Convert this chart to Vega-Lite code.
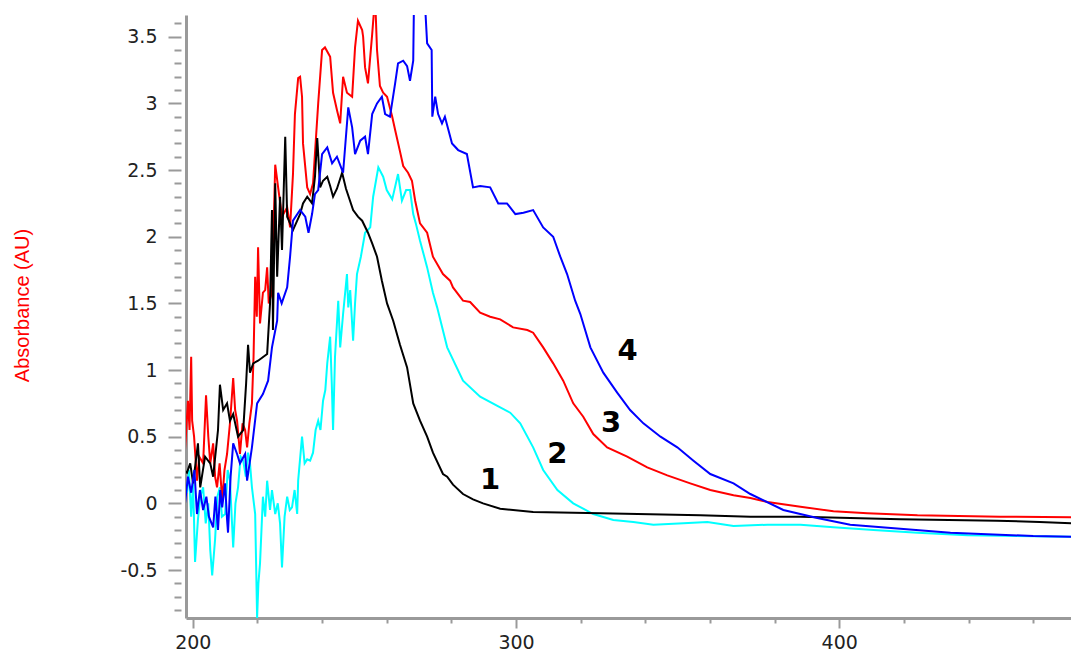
{
  "$schema": "https://vega.github.io/schema/vega-lite/v6.json",
  "width": 885,
  "height": 603,
  "autosize": {"type": "none"},
  "padding": {"left": 186, "top": 15, "right": 0, "bottom": 33},
  "background": "white",
  "config": {"view": {"stroke": null}},
  "datasets": {
    "curves": [
      {"s":"2","x":197.6,"y":0.17},{"s":"2","x":198.2,"y":0.08},{"s":"2","x":198.8,"y":0.25},{"s":"2","x":199.5,"y":-0.1},{"s":"2","x":200.1,"y":0.15},{"s":"2","x":200.7,"y":-0.44},{"s":"2","x":201.6,"y":-0.12},{"s":"2","x":202.3,"y":0.05},{"s":"2","x":203.2,"y":0.12},{"s":"2","x":204.0,"y":-0.15},{"s":"2","x":204.8,"y":0.0},{"s":"2","x":205.4,"y":-0.35},{"s":"2","x":206.0,"y":-0.54},{"s":"2","x":206.9,"y":-0.27},{"s":"2","x":207.6,"y":0.05},{"s":"2","x":208.4,"y":0.12},{"s":"2","x":209.0,"y":-0.1},{"s":"2","x":210.0,"y":-0.08},{"s":"2","x":210.8,"y":0.25},{"s":"2","x":211.5,"y":0.17},{"s":"2","x":212.5,"y":-0.33},{"s":"2","x":213.2,"y":0.0},{"s":"2","x":214.0,"y":0.12},{"s":"2","x":214.8,"y":0.35},{"s":"2","x":215.6,"y":0.32},{"s":"2","x":216.4,"y":0.2},{"s":"2","x":217.1,"y":0.38},{"s":"2","x":217.7,"y":0.3},{"s":"2","x":218.3,"y":0.12},{"s":"2","x":219.3,"y":-0.08},{"s":"2","x":219.9,"y":-0.86},{"s":"2","x":220.3,"y":-0.6},{"s":"2","x":220.8,"y":-0.45},{"s":"2","x":221.7,"y":0.05},{"s":"2","x":222.4,"y":-0.1},{"s":"2","x":223.0,"y":0.17},{"s":"2","x":223.9,"y":-0.05},{"s":"2","x":224.5,"y":0.1},{"s":"2","x":225.5,"y":-0.08},{"s":"2","x":226.3,"y":0.0},{"s":"2","x":227.0,"y":-0.15},{"s":"2","x":227.6,"y":-0.48},{"s":"2","x":228.4,"y":-0.1},{"s":"2","x":229.2,"y":0.05},{"s":"2","x":230.0,"y":-0.05},{"s":"2","x":230.7,"y":-0.03},{"s":"2","x":231.5,"y":0.1},{"s":"2","x":232.3,"y":-0.08},{"s":"2","x":232.6,"y":0.17},{"s":"2","x":233.8,"y":0.5},{"s":"2","x":234.6,"y":0.3},{"s":"2","x":235.4,"y":0.33},{"s":"2","x":236.3,"y":0.32},{"s":"2","x":237.2,"y":0.38},{"s":"2","x":238.0,"y":0.55},{"s":"2","x":238.8,"y":0.62},{"s":"2","x":239.5,"y":0.55},{"s":"2","x":240.3,"y":0.77},{"s":"2","x":241.0,"y":0.85},{"s":"2","x":241.6,"y":1.05},{"s":"2","x":242.5,"y":1.25},{"s":"2","x":243.0,"y":0.9},{"s":"2","x":243.4,"y":0.55},{"s":"2","x":244.0,"y":1.1},{"s":"2","x":245.0,"y":1.52},{"s":"2","x":245.6,"y":1.17},{"s":"2","x":246.5,"y":1.42},{"s":"2","x":247.7,"y":1.72},{"s":"2","x":248.1,"y":1.47},{"s":"2","x":248.7,"y":1.6},{"s":"2","x":249.6,"y":1.22},{"s":"2","x":250.2,"y":1.5},{"s":"2","x":250.8,"y":1.72},{"s":"2","x":252.0,"y":1.85},{"s":"2","x":253.3,"y":2.03},{"s":"2","x":254.9,"y":2.07},{"s":"2","x":255.8,"y":2.3},{"s":"2","x":257.4,"y":2.52},{"s":"2","x":258.9,"y":2.45},{"s":"2","x":260.0,"y":2.35},{"s":"2","x":261.7,"y":2.28},{"s":"2","x":263.5,"y":2.47},{"s":"2","x":264.7,"y":2.27},{"s":"2","x":266.0,"y":2.35},{"s":"2","x":267.2,"y":2.35},{"s":"2","x":268.2,"y":2.17},{"s":"2","x":269.0,"y":2.1},{"s":"2","x":270.3,"y":1.97},{"s":"2","x":272.5,"y":1.77},{"s":"2","x":274.3,"y":1.58},{"s":"2","x":275.6,"y":1.47},{"s":"2","x":278.7,"y":1.17},{"s":"2","x":283.6,"y":0.92},{"s":"2","x":288.9,"y":0.8},{"s":"2","x":295.1,"y":0.72},{"s":"2","x":298.2,"y":0.68},{"s":"2","x":301.3,"y":0.6},{"s":"2","x":305.3,"y":0.42},{"s":"2","x":308.4,"y":0.25},{"s":"2","x":312.8,"y":0.1},{"s":"2","x":317.7,"y":0.0},{"s":"2","x":323.9,"y":-0.08},{"s":"2","x":330.1,"y":-0.125},{"s":"2","x":336.3,"y":-0.14},{"s":"2","x":342.5,"y":-0.16},{"s":"2","x":351.8,"y":-0.15},{"s":"2","x":359.2,"y":-0.14},{"s":"2","x":367.3,"y":-0.17},{"s":"2","x":377.8,"y":-0.16},{"s":"2","x":388.0,"y":-0.16},{"s":"2","x":398.2,"y":-0.18},{"s":"2","x":410.6,"y":-0.2},{"s":"2","x":424.2,"y":-0.22},{"s":"2","x":439.7,"y":-0.24},{"s":"2","x":471.7,"y":-0.25},

      {"s":"3","x":197.6,"y":0.4},{"s":"3","x":198.5,"y":0.77},{"s":"3","x":199.0,"y":0.55},{"s":"3","x":199.5,"y":1.1},{"s":"3","x":199.8,"y":0.62},{"s":"3","x":200.4,"y":0.5},{"s":"3","x":201.3,"y":0.17},{"s":"3","x":202.0,"y":0.35},{"s":"3","x":203.2,"y":0.3},{"s":"3","x":204.1,"y":0.81},{"s":"3","x":204.8,"y":0.5},{"s":"3","x":205.4,"y":0.3},{"s":"3","x":206.3,"y":0.45},{"s":"3","x":206.9,"y":0.2},{"s":"3","x":207.5,"y":0.12},{"s":"3","x":208.3,"y":0.3},{"s":"3","x":209.1,"y":0.02},{"s":"3","x":209.8,"y":0.25},{"s":"3","x":210.6,"y":0.37},{"s":"3","x":211.5,"y":0.6},{"s":"3","x":212.5,"y":0.94},{"s":"3","x":213.1,"y":0.7},{"s":"3","x":213.7,"y":0.62},{"s":"3","x":214.6,"y":0.37},{"s":"3","x":215.4,"y":0.6},{"s":"3","x":216.2,"y":0.55},{"s":"3","x":216.8,"y":0.42},{"s":"3","x":217.5,"y":0.6},{"s":"3","x":218.3,"y":0.75},{"s":"3","x":218.8,"y":1.1},{"s":"3","x":219.3,"y":1.7},{"s":"3","x":219.8,"y":1.4},{"s":"3","x":220.2,"y":1.92},{"s":"3","x":220.8,"y":1.35},{"s":"3","x":221.7,"y":1.58},{"s":"3","x":222.4,"y":1.6},{"s":"3","x":223.0,"y":1.77},{"s":"3","x":223.5,"y":1.5},{"s":"3","x":224.5,"y":1.58},{"s":"3","x":225.5,"y":2.54},{"s":"3","x":226.4,"y":2.37},{"s":"3","x":227.6,"y":2.15},{"s":"3","x":229.2,"y":2.22},{"s":"3","x":230.1,"y":2.07},{"s":"3","x":231.0,"y":2.47},{"s":"3","x":231.6,"y":2.92},{"s":"3","x":232.6,"y":3.19},{"s":"3","x":233.2,"y":3.2},{"s":"3","x":233.8,"y":3.05},{"s":"3","x":234.1,"y":2.7},{"s":"3","x":235.4,"y":2.37},{"s":"3","x":236.3,"y":2.32},{"s":"3","x":237.2,"y":2.4},{"s":"3","x":238.8,"y":3.0},{"s":"3","x":240.0,"y":3.4},{"s":"3","x":240.9,"y":3.42},{"s":"3","x":242.5,"y":3.35},{"s":"3","x":243.4,"y":3.08},{"s":"3","x":244.6,"y":2.95},{"s":"3","x":245.6,"y":2.85},{"s":"3","x":246.5,"y":3.2},{"s":"3","x":247.7,"y":3.08},{"s":"3","x":249.3,"y":3.05},{"s":"3","x":250.2,"y":3.42},{"s":"3","x":251.1,"y":3.62},{"s":"3","x":252.4,"y":3.55},{"s":"3","x":252.7,"y":3.5},{"s":"3","x":253.3,"y":3.27},{"s":"3","x":254.2,"y":3.15},{"s":"3","x":255.5,"y":3.52},{"s":"3","x":256.4,"y":3.8},{"s":"3","x":257.0,"y":3.4},{"s":"3","x":257.9,"y":3.13},{"s":"3","x":258.9,"y":3.08},{"s":"3","x":260.1,"y":3.05},{"s":"3","x":261.7,"y":2.9},{"s":"3","x":262.6,"y":2.8},{"s":"3","x":264.1,"y":2.64},{"s":"3","x":265.1,"y":2.53},{"s":"3","x":266.6,"y":2.48},{"s":"3","x":267.8,"y":2.42},{"s":"3","x":268.8,"y":2.27},{"s":"3","x":270.3,"y":2.1},{"s":"3","x":272.5,"y":2.03},{"s":"3","x":274.3,"y":1.85},{"s":"3","x":277.4,"y":1.72},{"s":"3","x":279.6,"y":1.67},{"s":"3","x":280.5,"y":1.62},{"s":"3","x":283.6,"y":1.52},{"s":"3","x":285.8,"y":1.51},{"s":"3","x":288.9,"y":1.43},{"s":"3","x":292.0,"y":1.4},{"s":"3","x":295.1,"y":1.38},{"s":"3","x":299.1,"y":1.32},{"s":"3","x":303.5,"y":1.3},{"s":"3","x":305.3,"y":1.28},{"s":"3","x":308.4,"y":1.17},{"s":"3","x":311.5,"y":1.05},{"s":"3","x":314.6,"y":0.92},{"s":"3","x":317.7,"y":0.75},{"s":"3","x":320.8,"y":0.65},{"s":"3","x":323.9,"y":0.52},{"s":"3","x":328.2,"y":0.42},{"s":"3","x":334.4,"y":0.35},{"s":"3","x":340.6,"y":0.27},{"s":"3","x":346.8,"y":0.21},{"s":"3","x":353.9,"y":0.15},{"s":"3","x":360.1,"y":0.1},{"s":"3","x":367.3,"y":0.06},{"s":"3","x":372.5,"y":0.04},{"s":"3","x":377.8,"y":0.01},{"s":"3","x":388.0,"y":-0.025},{"s":"3","x":398.2,"y":-0.06},{"s":"3","x":408.7,"y":-0.075},{"s":"3","x":424.2,"y":-0.09},{"s":"3","x":449.8,"y":-0.1},{"s":"3","x":471.7,"y":-0.105},

      {"s":"1","x":197.6,"y":0.24},{"s":"1","x":198.2,"y":0.23},{"s":"1","x":199.2,"y":0.3},{"s":"1","x":200.1,"y":0.15},{"s":"1","x":201.6,"y":0.45},{"s":"1","x":202.3,"y":0.12},{"s":"1","x":203.8,"y":0.35},{"s":"1","x":205.4,"y":0.3},{"s":"1","x":206.3,"y":0.2},{"s":"1","x":207.8,"y":0.55},{"s":"1","x":208.4,"y":0.89},{"s":"1","x":209.4,"y":0.7},{"s":"1","x":210.6,"y":0.75},{"s":"1","x":211.5,"y":0.62},{"s":"1","x":212.5,"y":0.67},{"s":"1","x":214.0,"y":0.5},{"s":"1","x":215.6,"y":0.55},{"s":"1","x":216.5,"y":0.9},{"s":"1","x":217.1,"y":1.19},{"s":"1","x":217.7,"y":0.98},{"s":"1","x":218.7,"y":1.05},{"s":"1","x":220.2,"y":1.07},{"s":"1","x":223.0,"y":1.12},{"s":"1","x":223.9,"y":1.5},{"s":"1","x":224.5,"y":2.2},{"s":"1","x":224.8,"y":1.3},{"s":"1","x":225.5,"y":2.4},{"s":"1","x":226.1,"y":1.7},{"s":"1","x":227.0,"y":2.3},{"s":"1","x":227.6,"y":1.9},{"s":"1","x":228.6,"y":2.75},{"s":"1","x":229.2,"y":2.15},{"s":"1","x":230.1,"y":2.1},{"s":"1","x":231.0,"y":2.05},{"s":"1","x":232.3,"y":2.12},{"s":"1","x":233.2,"y":2.17},{"s":"1","x":234.1,"y":2.25},{"s":"1","x":235.4,"y":2.3},{"s":"1","x":236.9,"y":2.25},{"s":"1","x":237.8,"y":2.45},{"s":"1","x":238.5,"y":2.74},{"s":"1","x":239.4,"y":2.37},{"s":"1","x":240.3,"y":2.42},{"s":"1","x":241.6,"y":2.45},{"s":"1","x":242.5,"y":2.38},{"s":"1","x":243.4,"y":2.3},{"s":"1","x":244.6,"y":2.36},{"s":"1","x":246.2,"y":2.48},{"s":"1","x":247.4,"y":2.36},{"s":"1","x":249.6,"y":2.2},{"s":"1","x":251.1,"y":2.15},{"s":"1","x":252.4,"y":2.12},{"s":"1","x":254.2,"y":2.03},{"s":"1","x":255.5,"y":1.95},{"s":"1","x":257.0,"y":1.85},{"s":"1","x":258.5,"y":1.67},{"s":"1","x":260.1,"y":1.5},{"s":"1","x":262.0,"y":1.37},{"s":"1","x":264.1,"y":1.19},{"s":"1","x":266.3,"y":1.02},{"s":"1","x":268.2,"y":0.75},{"s":"1","x":270.3,"y":0.62},{"s":"1","x":272.5,"y":0.5},{"s":"1","x":274.3,"y":0.38},{"s":"1","x":277.4,"y":0.22},{"s":"1","x":278.7,"y":0.2},{"s":"1","x":280.5,"y":0.14},{"s":"1","x":283.6,"y":0.07},{"s":"1","x":286.7,"y":0.03},{"s":"1","x":289.8,"y":0.0},{"s":"1","x":295.1,"y":-0.04},{"s":"1","x":305.3,"y":-0.065},{"s":"1","x":326.1,"y":-0.075},{"s":"1","x":357.0,"y":-0.09},{"s":"1","x":372.5,"y":-0.1},{"s":"1","x":388.0,"y":-0.1},{"s":"1","x":418.9,"y":-0.12},{"s":"1","x":448.8,"y":-0.13},{"s":"1","x":462.0,"y":-0.14},{"s":"1","x":471.7,"y":-0.15},

      {"s":"4","x":197.6,"y":0.0},{"s":"4","x":198.5,"y":0.2},{"s":"4","x":199.5,"y":0.08},{"s":"4","x":200.5,"y":0.25},{"s":"4","x":201.3,"y":-0.08},{"s":"4","x":202.2,"y":0.1},{"s":"4","x":203.2,"y":-0.05},{"s":"4","x":204.2,"y":0.05},{"s":"4","x":205.0,"y":-0.1},{"s":"4","x":206.3,"y":-0.18},{"s":"4","x":207.0,"y":0.05},{"s":"4","x":207.8,"y":-0.2},{"s":"4","x":208.5,"y":0.1},{"s":"4","x":209.1,"y":-0.03},{"s":"4","x":210.0,"y":0.15},{"s":"4","x":210.6,"y":-0.12},{"s":"4","x":210.9,"y":-0.22},{"s":"4","x":211.7,"y":0.2},{"s":"4","x":212.5,"y":0.45},{"s":"4","x":213.7,"y":0.37},{"s":"4","x":214.6,"y":0.3},{"s":"4","x":216.2,"y":0.37},{"s":"4","x":216.8,"y":0.17},{"s":"4","x":218.3,"y":0.42},{"s":"4","x":219.9,"y":0.75},{"s":"4","x":221.7,"y":0.82},{"s":"4","x":223.3,"y":0.92},{"s":"4","x":224.5,"y":1.17},{"s":"4","x":226.1,"y":1.37},{"s":"4","x":226.4,"y":1.58},{"s":"4","x":227.5,"y":1.5},{"s":"4","x":229.2,"y":1.62},{"s":"4","x":230.1,"y":1.85},{"s":"4","x":231.0,"y":2.12},{"s":"4","x":233.2,"y":2.2},{"s":"4","x":234.8,"y":2.15},{"s":"4","x":235.8,"y":2.03},{"s":"4","x":236.9,"y":2.17},{"s":"4","x":237.8,"y":2.32},{"s":"4","x":238.8,"y":2.35},{"s":"4","x":240.0,"y":2.62},{"s":"4","x":241.6,"y":2.67},{"s":"4","x":243.1,"y":2.55},{"s":"4","x":244.6,"y":2.6},{"s":"4","x":246.5,"y":2.48},{"s":"4","x":248.1,"y":2.97},{"s":"4","x":249.3,"y":2.82},{"s":"4","x":250.2,"y":2.62},{"s":"4","x":251.8,"y":2.72},{"s":"4","x":253.3,"y":2.75},{"s":"4","x":254.2,"y":2.62},{"s":"4","x":255.5,"y":2.92},{"s":"4","x":257.0,"y":3.0},{"s":"4","x":258.5,"y":3.05},{"s":"4","x":259.5,"y":2.92},{"s":"4","x":261.0,"y":2.9},{"s":"4","x":262.6,"y":3.15},{"s":"4","x":263.5,"y":3.3},{"s":"4","x":265.1,"y":3.32},{"s":"4","x":266.3,"y":3.28},{"s":"4","x":267.2,"y":3.17},{"s":"4","x":268.2,"y":3.32},{"s":"4","x":268.5,"y":3.9},{"s":"4","x":271.5,"y":3.9},{"s":"4","x":272.5,"y":3.45},{"s":"4","x":273.9,"y":3.4},{"s":"4","x":274.1,"y":2.9},{"s":"4","x":275.0,"y":3.05},{"s":"4","x":275.9,"y":2.92},{"s":"4","x":277.1,"y":2.85},{"s":"4","x":278.0,"y":2.9},{"s":"4","x":280.2,"y":2.7},{"s":"4","x":282.1,"y":2.65},{"s":"4","x":284.8,"y":2.62},{"s":"4","x":286.7,"y":2.37},{"s":"4","x":288.9,"y":2.38},{"s":"4","x":292.0,"y":2.37},{"s":"4","x":294.5,"y":2.25},{"s":"4","x":297.2,"y":2.25},{"s":"4","x":299.8,"y":2.17},{"s":"4","x":302.3,"y":2.18},{"s":"4","x":305.3,"y":2.2},{"s":"4","x":308.4,"y":2.07},{"s":"4","x":311.5,"y":2.0},{"s":"4","x":313.7,"y":1.85},{"s":"4","x":315.8,"y":1.72},{"s":"4","x":318.3,"y":1.52},{"s":"4","x":319.9,"y":1.42},{"s":"4","x":323.0,"y":1.17},{"s":"4","x":327.0,"y":0.98},{"s":"4","x":331.3,"y":0.83},{"s":"4","x":335.3,"y":0.7},{"s":"4","x":339.4,"y":0.6},{"s":"4","x":344.7,"y":0.5},{"s":"4","x":349.9,"y":0.42},{"s":"4","x":354.9,"y":0.32},{"s":"4","x":360.1,"y":0.22},{"s":"4","x":367.3,"y":0.15},{"s":"4","x":372.5,"y":0.07},{"s":"4","x":382.7,"y":-0.05},{"s":"4","x":393.2,"y":-0.11},{"s":"4","x":403.4,"y":-0.16},{"s":"4","x":418.9,"y":-0.19},{"s":"4","x":434.4,"y":-0.22},{"s":"4","x":460.0,"y":-0.245},{"s":"4","x":471.7,"y":-0.25}
    ],
    "labels": [
      {"t":"1","x":292.0,"y":0.175},
      {"t":"2","x":312.8,"y":0.37},
      {"t":"3","x":329.4,"y":0.6},
      {"t":"4","x":334.5,"y":1.14}
    ]
  },
  "encoding": {
    "x": {
      "field": "x", "type": "quantitative",
      "scale": {"domain": [197.9, 471.7], "nice": false, "zero": false},
      "axis": {
        "title": null,
        "values": [200,220,240,260,280,300,320,340,360,380,400,420,440,460],
        "grid": false,
        "domainColor": "#9a9a9a", "domainWidth": 3,
        "tickColor": "#9a9a9a", "tickWidth": 2,
        "tickSize": {"condition": {"test": "datum.value % 100 == 0", "value": 10}, "value": 5},
        "labelExpr": "datum.value % 100 == 0 ? datum.label : ''",
        "labelFont": "DejaVu Sans", "labelFontSize": 19, "labelColor": "#222222",
        "labelPadding": 5, "labelOverlap": false, "labelFlush": false
      }
    },
    "y": {
      "field": "y", "type": "quantitative",
      "scale": {"domain": [-0.86, 3.663], "nice": false, "zero": false},
      "axis": {
        "values": [-0.8,-0.7,-0.6,-0.5,-0.4,-0.3,-0.2,-0.1,0,0.1,0.2,0.3,0.4,0.5,0.6,0.7,0.8,0.9,1,1.1,1.2,1.3,1.4,1.5,1.6,1.7,1.8,1.9,2,2.1,2.2,2.3,2.4,2.5,2.6,2.7,2.8,2.9,3,3.1,3.2,3.3,3.4,3.5,3.6],
        "grid": false,
        "title": "Absorbance (AU)",
        "titleColor": "#ff0000", "titleFont": "Liberation Sans", "titleFontSize": 20, "titleFontWeight": "normal",
        "titleAngle": -90, "titleX": -164, "titleY": 290, "titleAlign": "center", "titleBaseline": "middle",
        "domainColor": "#9a9a9a", "domainWidth": 3,
        "tickColor": "#9a9a9a", "tickWidth": 2,
        "tickSize": {"condition": {"test": "abs(datum.value*2 - round(datum.value*2)) < 0.01", "value": 18}, "value": 12},
        "tickDash": [0, 5, 30],
        "labelExpr": "abs(datum.value*2 - round(datum.value*2)) < 0.01 ? '' + round(datum.value*10)/10 : ''",
        "labelFont": "DejaVu Sans", "labelFontSize": 19, "labelColor": "#222222",
        "labelPadding": 11, "labelOverlap": false, "labelFlush": false
      }
    }
  },
  "layer": [
    {
      "data": {"name": "curves"},
      "mark": {"type": "line", "strokeWidth": 2, "clip": true},
      "encoding": {
        "color": {
          "field": "s", "type": "nominal",
          "scale": {"domain": ["2","3","1","4"], "range": ["#00ffff","#ff0000","#000000","#0000ff"]},
          "legend": null
        }
      }
    },
    {
      "data": {"name": "labels"},
      "mark": {"type": "text", "font": "DejaVu Sans", "fontSize": 29, "fontWeight": "bold", "color": "#000000", "align": "center", "baseline": "middle"},
      "encoding": {"text": {"field": "t", "type": "nominal"}}
    }
  ]
}
